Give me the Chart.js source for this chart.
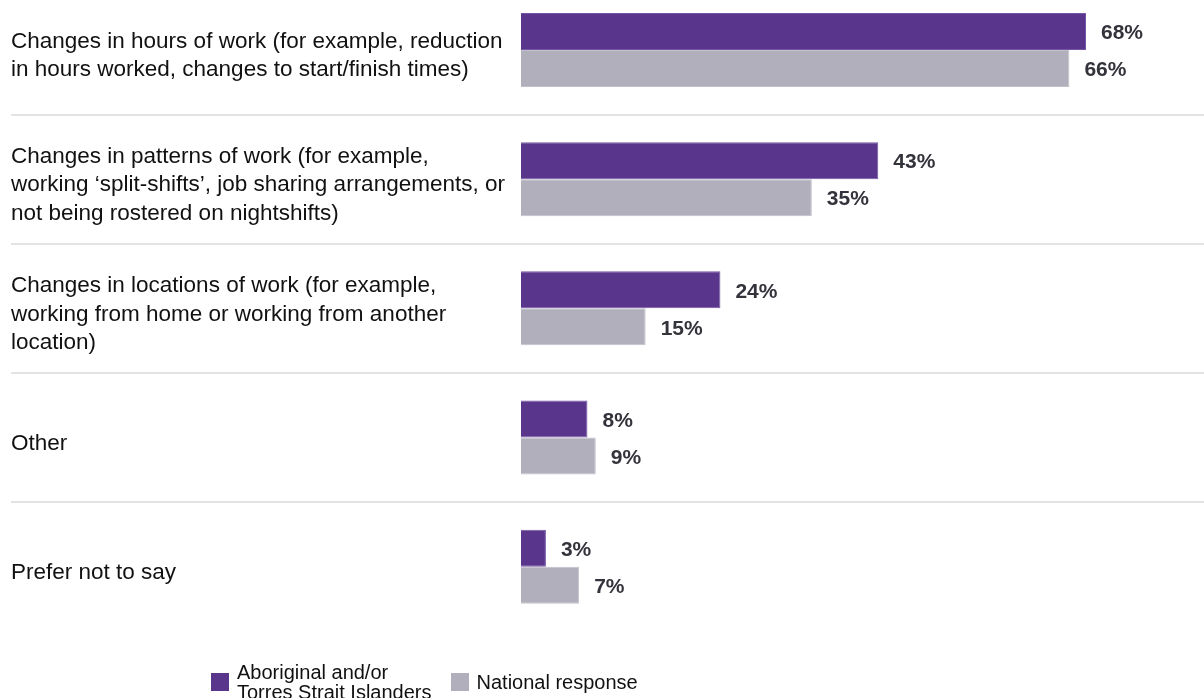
<!DOCTYPE html>
<html><head><meta charset="utf-8">
<script src="https://cdn.jsdelivr.net/npm/chart.js@4.4.1/dist/chart.umd.min.js"></script>
<style>
html,body{margin:0;padding:0;background:#fff;overflow:hidden}
#wrap{position:relative;width:1204px;height:698px}
#legend{position:absolute;left:211px;top:662px;display:flex;align-items:center;font-family:"Liberation Sans",Arial,sans-serif;font-size:20px;line-height:20px;color:#111}
.item{display:flex;align-items:center;margin-right:19px}
.sw{width:18px;height:18px;margin-right:8px;flex:none}
.txt{white-space:pre-line}
</style></head><body>
<div id="wrap"><canvas id="c" width="1204" height="698"></canvas><div id="legend"></div></div>
<script>
const categories = [
  ['Changes in hours of work (for example, reduction', 'in hours worked, changes to start/finish times)'],
  ['Changes in patterns of work (for example,', 'working \u2018split-shifts\u2019, job sharing arrangements, or', 'not being rostered on nightshifts)'],
  ['Changes in locations of work (for example,', 'working from home or working from another', 'location)'],
  ['Other'],
  ['Prefer not to say']
];
const seriesNames = ['Aboriginal and/or\nTorres Strait Islanders', 'National response'];
const aboriginalValues = [68, 43, 24, 8, 3];
const nationalValues = [66, 35, 15, 9, 7];
const seriesColors = ['#5A358C', '#B0AFBB'];
const seriesBorders = ['#7456A6', '#C2C1CB'];

const FONT = '"Liberation Sans", Arial, sans-serif';

const valueLabels = {
  id: 'valueLabels',
  afterDatasetsDraw(chart) {
    const ctx = chart.ctx;
    ctx.save();
    ctx.font = 'bold 21px ' + FONT;
    ctx.fillStyle = '#33333B';
    ctx.textAlign = 'left';
    ctx.textBaseline = 'middle';
    chart.data.datasets.forEach((ds, di) => {
      chart.getDatasetMeta(di).data.forEach((el, i) => {
        ctx.fillText(ds.data[i].x + '%', el.x + 15, el.y + 2);
      });
    });
    ctx.restore();
  }
};

const seriesValues = [aboriginalValues, nationalValues];
const datasets = seriesValues.map((vals, s) => ({
  label: seriesNames[s],
  data: vals.map((v, i) => ({ x: v, y: i })),
  backgroundColor: seriesColors[s],
  borderColor: seriesBorders[s],
  borderWidth: 1,
  categoryPercentage: 0.573,
  barPercentage: 1
}));

const chart = new Chart(document.getElementById('c'), {
  type: 'bar',
  data: { datasets },
  plugins: [valueLabels],
  options: {
    responsive: false,
    animation: false,
    devicePixelRatio: 1,
    indexAxis: 'y',
    layout: { padding: { left: 11, top: 0, right: 0, bottom: 68 } },
    plugins: { legend: { display: false }, tooltip: { enabled: false } },
    scales: {
      x: { type: 'linear', min: 0, max: 82.2, display: false },
      y: {
        type: 'linear',
        reverse: true,
        offset: false,
        min: -0.387,
        max: 4.49,
        afterBuildTicks: s => { s.ticks = categories.map((c, i) => ({ value: i })); },
        afterFit: s => {
          s.width = 510;
          s.paddingTop = 0; s.paddingBottom = 0;
          s.paddingLeft = 0; s.paddingRight = 0;
        },
        ticks: {
          callback: v => categories[v],
          crossAlign: 'far',
          color: '#111',
          font: { family: FONT, size: 22.5, lineHeight: 1.27 },
          labelOffset: 6,
          padding: 0,
          autoSkip: false
        },
        grid: {
          offset: true,
          color: '#E3E3E3',
          lineWidth: 2,
          drawTicks: true,
          tickLength: 510,
          drawOnChartArea: true
        },
        border: { display: false }
      }
    }
  }
});

const legend = document.getElementById('legend');
chart.data.datasets.forEach(ds => {
  const item = document.createElement('div');
  item.className = 'item';
  const sw = document.createElement('div');
  sw.className = 'sw';
  sw.style.background = ds.backgroundColor;
  const t = document.createElement('div');
  t.className = 'txt';
  t.textContent = ds.label;
  item.appendChild(sw); item.appendChild(t);
  legend.appendChild(item);
});
</script>
</body></html>
